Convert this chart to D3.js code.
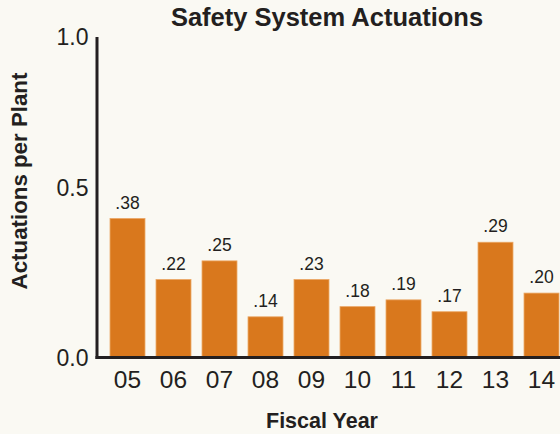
<!DOCTYPE html>
<html>
<head>
<meta charset="utf-8">
<script src="https://cdn.jsdelivr.net/npm/d3@7"></script>
<style>
  html, body { margin: 0; padding: 0; background: #faf9f3; }
  svg { display: block; font-family: "Liberation Sans", Arial, Helvetica, sans-serif; }
</style>
</head>
<body>
<div id="chart"></div>
<script>
// fiscal years and values
const years = ["05", "06", "07", "08", "09", "10", "11", "12", "13", "14"];
const barValues = [0.41, 0.23, 0.285, 0.12, 0.23, 0.15, 0.17, 0.135, 0.34, 0.19];
const barLabels = [".38", ".22", ".25", ".14", ".23", ".18", ".19", ".17", ".29", ".20"];
const yTicks = [0, 0.5, 1.0];

const width = 560, height = 434;
const ink = "#231f20";
const barColor = "#d9781d";

const svg = d3.select("#chart")
  .append("svg")
  .attr("width", width)
  .attr("height", height);

svg.append("rect")
  .attr("width", width)
  .attr("height", height)
  .attr("fill", "#faf9f3");

// the axis in the picture is not evenly spaced, so map each tick where it sits
const y = d3.scaleLinear()
  .domain([0, 0.5, 1])
  .range([357.5, 188, 37]);

const x = d3.scaleBand()
  .domain(years)
  .range([104.5, 564.5])
  .paddingInner(0.24)
  .paddingOuter(0.12);

// bars
svg.append("g")
  .selectAll("rect")
  .data(years)
  .join("rect")
    .attr("x", d => x(d))
    .attr("width", x.bandwidth())
    .attr("y", (d, i) => y(barValues[i]))
    .attr("height", (d, i) => y(0) - y(barValues[i]))
    .attr("fill", barColor)
    .attr("stroke", "#eba663")
    .attr("stroke-width", 0.8);

// value labels above bars
svg.append("g")
  .attr("text-anchor", "middle")
  .selectAll("text")
  .data(years)
  .join("text")
    .attr("x", d => x(d) + x.bandwidth() / 2)
    .attr("y", (d, i) => y(barValues[i]) - 10)
    .attr("font-size", 17.5)
    .attr("fill", ink)
    .text((d, i) => barLabels[i]);

// axis lines
svg.append("line")
  .attr("x1", 97).attr("x2", 97)
  .attr("y1", y(1)).attr("y2", y(0) + 1.5)
  .attr("stroke", ink)
  .attr("stroke-width", 3);

svg.append("line")
  .attr("x1", 95.5).attr("x2", width)
  .attr("y1", y(0)).attr("y2", y(0))
  .attr("stroke", ink)
  .attr("stroke-width", 3);

// y tick labels
svg.append("g")
  .attr("text-anchor", "end")
  .selectAll("text")
  .data(yTicks)
  .join("text")
    .attr("x", 88.5)
    .attr("y", d => y(d))
    .attr("dy", "0.36em")
    .attr("font-size", 23)
    .attr("fill", ink)
    .text(d => d3.format(".1f")(d));

// x tick labels
svg.append("g")
  .attr("text-anchor", "middle")
  .selectAll("text")
  .data(years)
  .join("text")
    .attr("x", d => x(d) + x.bandwidth() / 2)
    .attr("y", 388)
    .attr("font-size", 24.5)
    .attr("fill", ink)
    .text(d => d);

// title and axis titles
svg.append("text")
  .attr("x", 327)
  .attr("y", 26)
  .attr("text-anchor", "middle")
  .attr("font-size", 25.5)
  .attr("font-weight", "bold")
  .attr("fill", ink)
  .text("Safety System Actuations");

svg.append("text")
  .attr("x", 322)
  .attr("y", 428)
  .attr("text-anchor", "middle")
  .attr("font-size", 21.5)
  .attr("font-weight", "bold")
  .attr("fill", ink)
  .text("Fiscal Year");

svg.append("text")
  .attr("transform", "translate(27,181) rotate(-90)")
  .attr("text-anchor", "middle")
  .attr("font-size", 22.3)
  .attr("font-weight", "bold")
  .attr("fill", ink)
  .text("Actuations per Plant");
</script>
</body>
</html>
